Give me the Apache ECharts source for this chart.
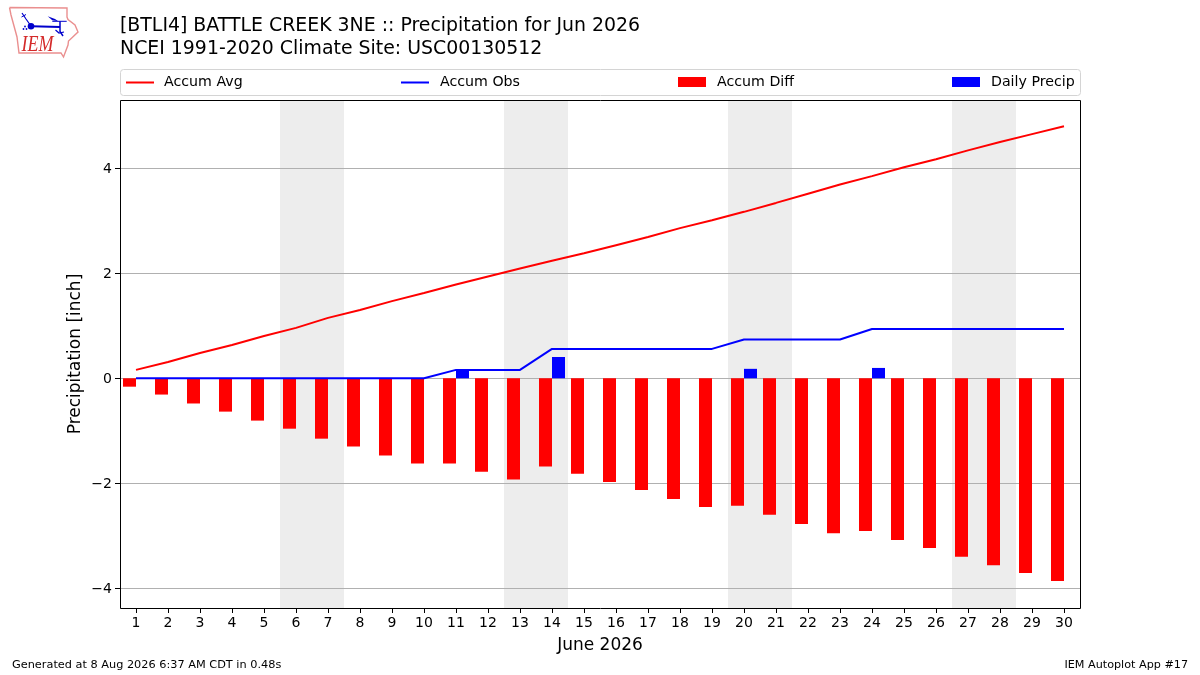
<!DOCTYPE html>
<html>
<head>
<meta charset="utf-8">
<style>html,body{margin:0;padding:0;background:#fff}#c{width:1200px;height:675px}</style>
<script src="https://cdn.jsdelivr.net/npm/echarts@6/dist/echarts.min.js"></script>
</head>
<body>
<div id="c"></div>
<script>
const days = [1,2,3,4,5,6,7,8,9,10,11,12,13,14,15,16,17,18,19,20,21,22,23,24,25,26,27,28,29,30];
const accumAvg = [0.16,0.31,0.48,0.635,0.806,0.96,1.15,1.30,1.47,1.625,1.785,1.94,2.09,2.24,2.38,2.535,2.69,2.86,3.01,3.17,3.34,3.515,3.69,3.85,4.02,4.17,4.34,4.50,4.65,4.80];
const accumObs = [0,0,0,0,0,0,0,0,0,0,0.16,0.16,0.16,0.56,0.56,0.56,0.56,0.56,0.56,0.74,0.74,0.74,0.74,0.94,0.94,0.94,0.94,0.94,0.94,0.94];
const accumDiff = [-0.16,-0.31,-0.48,-0.635,-0.806,-0.96,-1.15,-1.30,-1.47,-1.625,-1.625,-1.78,-1.93,-1.68,-1.82,-1.975,-2.13,-2.30,-2.45,-2.43,-2.60,-2.775,-2.95,-2.91,-3.08,-3.23,-3.40,-3.56,-3.71,-3.86];
const dailyPrecip = [null,null,null,null,null,null,null,null,null,null,0.16,null,null,0.405,null,null,null,null,null,0.18,null,null,null,0.197,null,null,null,null,null,null];
const weekendDays = [6,7,13,14,20,21,27,28];
const yTicks = [-4,-2,0,2,4];
const titleLines = '[BTLI4] BATTLE CREEK 3NE :: Precipitation for Jun 2026\nNCEI 1991-2020 Climate Site: USC00130512';
const FONT = '"DejaVu Sans"';

const legendBase = {top:75,padding:0,itemWidth:28,itemHeight:10};
const legendText = pad => ({fontFamily:FONT,fontSize:14.2,color:'#000',padding:[0,0,0,pad]});
const lineIcon = 'path://M0,0L0,0ZM0,4.5H28V6.5H0ZM28,10L28,10Z';

const chart = echarts.init(document.getElementById('c'), null, {renderer:'canvas'});
const xCommon = {type:'category', data:days.map(String), boundaryGap:true};
chart.setOption({
  animation:false,
  backgroundColor:'#fff',
  textStyle:{fontFamily:FONT},
  title:[
    {text:titleLines,left:120,top:15,padding:0,textStyle:{fontFamily:FONT,fontSize:18.9,fontWeight:'normal',color:'#000',lineHeight:23}},
    {text:'Generated at 8 Aug 2026 6:37 AM CDT in 0.48s',left:12,top:660,padding:0,textStyle:{fontFamily:FONT,fontSize:11.3,fontWeight:'normal',color:'#000'}},
    {text:'IEM Autoplot App #17',right:12,top:660,padding:0,textStyle:{fontFamily:FONT,fontSize:11.2,fontWeight:'normal',color:'#000'}}
  ],
  legend:[
    Object.assign({},legendBase,{left:126,textStyle:legendText(5),data:[{name:'Accum Avg',icon:lineIcon}]}),
    Object.assign({},legendBase,{left:401,textStyle:legendText(6),data:[{name:'Accum Obs',icon:lineIcon}]}),
    Object.assign({},legendBase,{left:678,textStyle:legendText(6),data:[{name:'Accum Diff',icon:'rect'}]}),
    Object.assign({},legendBase,{left:952,textStyle:legendText(6),data:[{name:'Daily Precip',icon:'rect'}]})
  ],
  grid:{left:120,top:100,width:960,height:508,show:false,containLabel:false},
  xAxis:[
    Object.assign({},xCommon,{
      position:'bottom',
      name:'June 2026',nameLocation:'middle',nameGap:29,nameMoveOverlap:false,
      nameTextStyle:{fontFamily:FONT,fontSize:17,color:'#000'},
      axisLine:{show:false,onZero:false},
      axisTick:{show:true,alignWithLabel:true,length:5,lineStyle:{color:'#000',width:1}},
      axisLabel:{interval:0,margin:8,fontFamily:FONT,fontSize:14,color:'#000'},
      splitLine:{show:false}
    }),
    Object.assign({},xCommon,{show:false})
  ],
  yAxis:[
    {type:'value',min:-4.375,max:5.30,
      name:'Precipitation [inch]',nameLocation:'middle',nameGap:36,nameMoveOverlap:false,
      nameTextStyle:{fontFamily:FONT,fontSize:17,color:'#000'},
      axisLine:{show:false},
      axisTick:{show:true,length:5,lineStyle:{color:'#000',width:1},customValues:yTicks},
      axisLabel:{fontFamily:FONT,fontSize:14,color:'#000',margin:8,customValues:yTicks,verticalAlign:'top',lineHeight:3,
        formatter:v=>String(v).replace('-','\u2212')},
      splitLine:{show:true,lineStyle:{color:'#b0b0b0',width:1}}
    },
    {type:'value',min:0,max:1,show:false}
  ],
  series:[
    {name:'weekend',type:'bar',xAxisIndex:1,yAxisIndex:1,z:-1,silent:true,barWidth:'100%',
      itemStyle:{color:'#ededed'},legendHoverLink:false,
      data:days.map(d=>weekendDays.includes(d)?1:null)},
    {name:'Accum Diff',type:'bar',barWidth:13,barGap:0,itemStyle:{color:'#ff0000'},z:2,data:accumDiff},
    {name:'Daily Precip',type:'bar',barWidth:13,barGap:0,itemStyle:{color:'#0000ff'},z:2,data:dailyPrecip},
    {name:'Accum Avg',type:'line',symbol:'none',lineStyle:{color:'#ff0000',width:2},itemStyle:{color:'#ff0000'},z:3,data:accumAvg},
    {name:'Accum Obs',type:'line',symbol:'none',lineStyle:{color:'#0000ff',width:2},itemStyle:{color:'#0000ff'},z:3,data:accumObs}
  ],
  graphic:[
    {type:'rect',silent:true,z:10,shape:{x:120.5,y:100.5,width:960,height:508},style:{fill:'none',stroke:'#000',lineWidth:1}},
    {type:'rect',silent:true,z:10,shape:{x:120.5,y:69.5,width:960,height:26,r:3},style:{fill:'none',stroke:'#d4d4d4',lineWidth:1}},
    {type:'polyline',silent:true,shape:{points:[[9.5,7.5],[67,8],[67,17],[68,19.5],[75,25],[78,32],[68.5,41],[68,45],[63.5,57],[61,53],[19,53],[17,37],[11,15],[9.5,7.5]]},style:{fill:'none',stroke:'#ea8f8f',lineWidth:1.4}},
    {type:'polyline',silent:true,shape:{points:[[31.7,26.3],[60,27]]},style:{fill:'none',stroke:'#0000cc',lineWidth:2}},
    {type:'circle',silent:true,shape:{cx:31,cy:26.3,r:3.3},style:{fill:'#0000cc'}},
    {type:'polyline',silent:true,shape:{points:[[22,13],[26,19],[31,26]]},style:{fill:'none',stroke:'#0000cc',lineWidth:1.2}},
    {type:'polyline',silent:true,shape:{points:[[21.5,17],[26,14.5]]},style:{fill:'none',stroke:'#0000cc',lineWidth:1}},
    {type:'polygon',silent:true,shape:{points:[[47.7,16.3],[55,19],[58.3,21.3],[52.3,20.3]]},style:{fill:'#0000cc'}},
    {type:'polyline',silent:true,shape:{points:[[52.3,21.3],[66.7,21.3]]},style:{fill:'none',stroke:'#0000cc',lineWidth:1}},
    {type:'polyline',silent:true,shape:{points:[[60,21.3],[60,31.5],[63,36]]},style:{fill:'none',stroke:'#0000cc',lineWidth:1.5}},
    {type:'polyline',silent:true,shape:{points:[[55.5,30],[59,33],[64,32]]},style:{fill:'none',stroke:'#0000cc',lineWidth:1.2}},
    {type:'circle',silent:true,shape:{cx:25,cy:26.5,r:0.9},style:{fill:'#0000cc'}},
    {type:'circle',silent:true,shape:{cx:23.5,cy:29,r:0.9},style:{fill:'#0000cc'}},
    {type:'circle',silent:true,shape:{cx:26.5,cy:29,r:0.9},style:{fill:'#0000cc'}},
    {type:'text',silent:true,x:21.5,y:56.5,scaleY:1.3,style:{text:'IEM',fontFamily:'"Liberation Serif"',fontStyle:'italic',fontSize:18,fill:'#d42a2a',verticalAlign:'bottom'}}
  ]
});
</script>
</body>
</html>
